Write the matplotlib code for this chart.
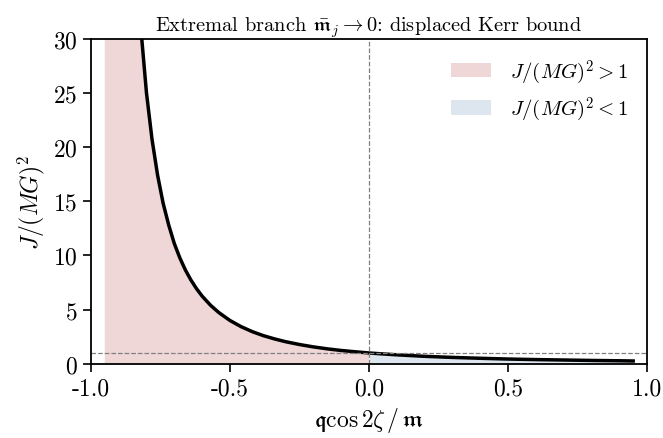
import numpy as np
import matplotlib
matplotlib.use("Agg")
import matplotlib.pyplot as plt

plt.rcParams["font.family"] = "serif"
plt.rcParams["font.serif"] = ["cmr10"]
plt.rcParams["mathtext.fontset"] = "cm"
plt.rcParams["axes.unicode_minus"] = False
plt.rcParams["axes.formatter.use_mathtext"] = True

# curve: J/(MG)^2 against q cos(2 zeta)/m
xv = [-0.95, -0.92, -0.90, -0.88, -0.86, -0.84, -0.82, -0.80, -0.78, -0.76,
      -0.74, -0.72, -0.70, -0.68, -0.66, -0.64, -0.62, -0.60, -0.57, -0.54,
      -0.50, -0.46, -0.42, -0.38, -0.34, -0.30, -0.25, -0.20, -0.15, -0.10,
      -0.05, 0.00, 0.05, 0.10, 0.20, 0.30, 0.40, 0.50, 0.60, 0.70,
      0.80, 0.90, 0.95]
jv = [400.0, 156.0, 100.0, 69.4, 51.0, 39.1, 30.9, 25.0, 20.7, 17.4,
      14.8, 12.8, 11.1, 9.77, 8.65, 7.72, 6.93, 6.25, 5.41, 4.73,
      4.00, 3.43, 2.97, 2.60, 2.30, 2.04, 1.78, 1.56, 1.38, 1.23,
      1.11, 1.00, 0.91, 0.83, 0.69, 0.59, 0.51, 0.44, 0.39, 0.35,
      0.31, 0.28, 0.26]
labels = [r"$J/(MG)^2>1$", r"$J/(MG)^2<1$"]

x = np.array(xv)
j = np.array(jv)

fig = plt.figure(figsize=(6.63, 4.39), dpi=100)
ax = fig.add_axes([0.137, 0.169, 0.839, 0.741])

ax.fill_between(x, 0, j, where=(x <= 0), color="#efd6d7", lw=0, label=labels[0])
ax.fill_between(x, 0, j, where=(x >= 0), color="#dde6ee", lw=0, label=labels[1])
ax.plot(x, j, color="black", lw=2.5)
ax.axhline(1.0, color="gray", ls="--", lw=0.9)
ax.axvline(0.0, color="gray", ls="--", lw=0.9)

ax.set_xlim(-1, 1)
ax.set_ylim(0, 30)
ax.set_xticks([-1.0, -0.5, 0.0, 0.5, 1.0])
ax.set_xticklabels(["-1.0", "-0.5", "0.0", "0.5", "1.0"])
ax.set_yticks([0, 5, 10, 15, 20, 25, 30])
ax.tick_params(labelsize=17, width=1.2, length=6)
for s in ax.spines.values():
    s.set_linewidth(1.3)

ax.set_xlabel(r"$\mathfrak{q}\cos 2\zeta\,/\,\mathfrak{m}$", fontsize=17)
ax.set_ylabel(r"$J/(MG)^2$", fontsize=17)
ax.set_title(r"Extremal branch $\bar{\mathfrak{m}}_j\to 0$: displaced Kerr bound", fontsize=14.7)
ax.legend(loc="upper right", frameon=False, fontsize=15, handlelength=1.9,
          labelspacing=0.45, handletextpad=0.9)

plt.savefig("out.png", dpi=100)
